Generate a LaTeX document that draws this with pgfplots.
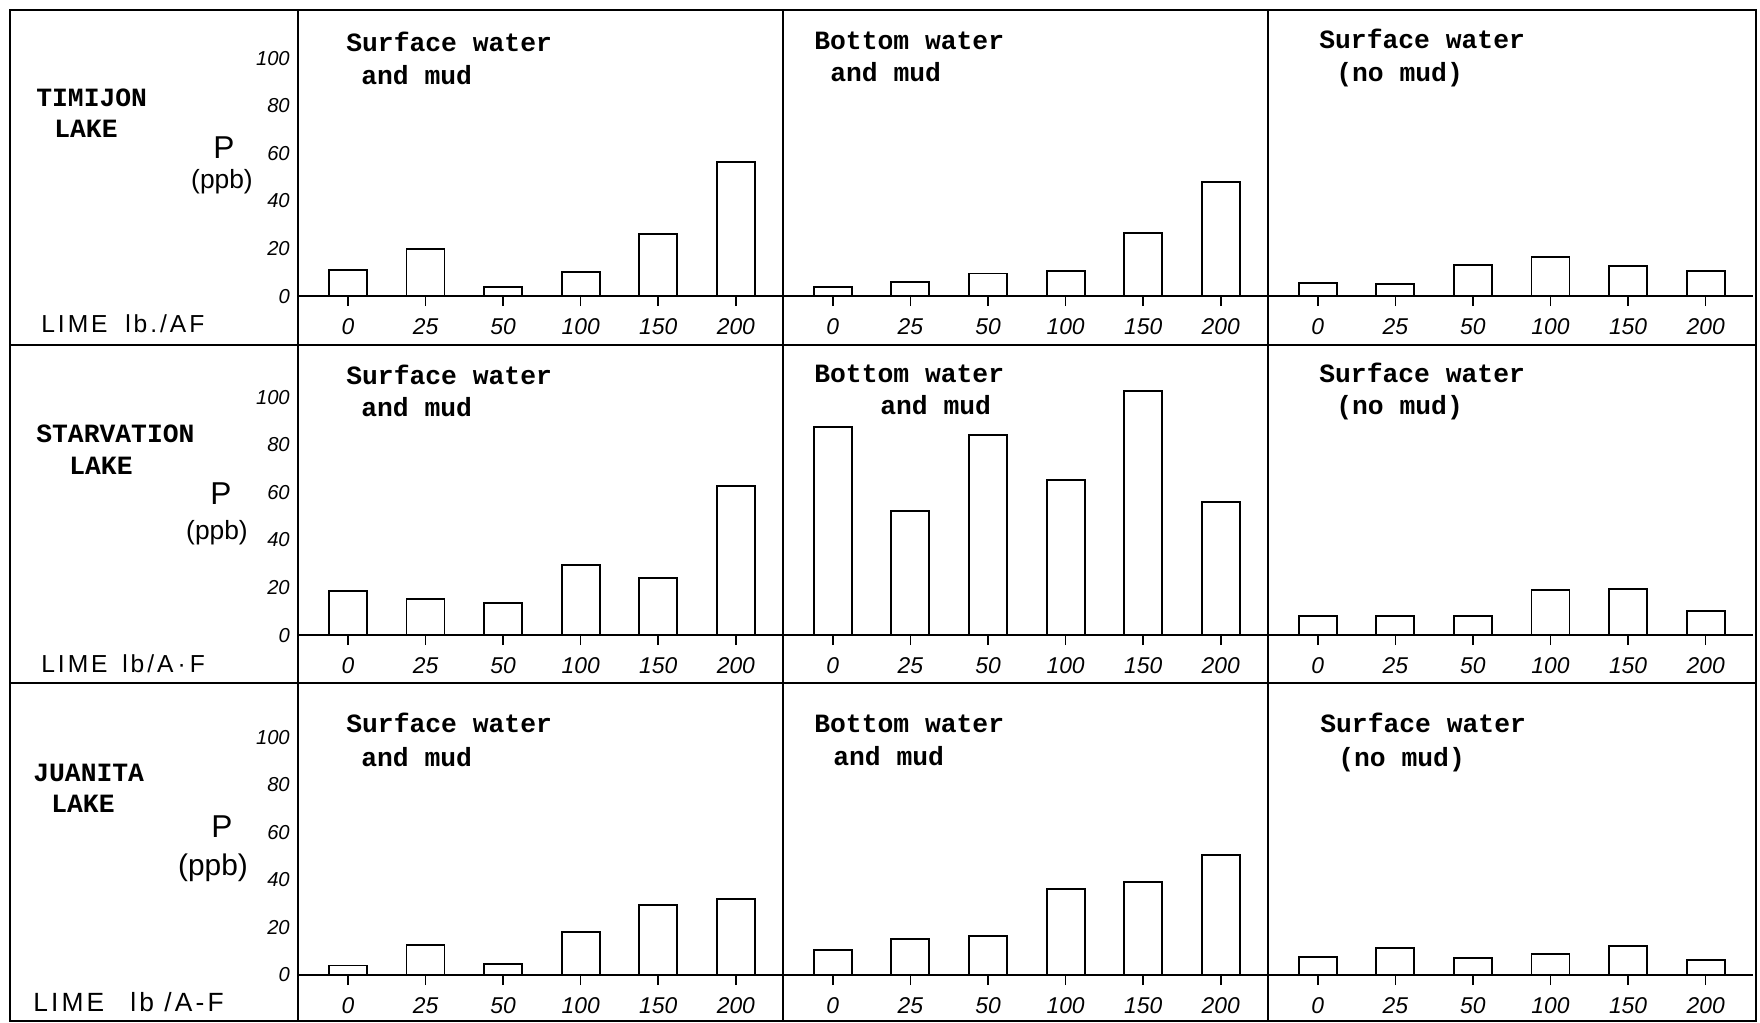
\documentclass[border=0pt]{standalone}
\usepackage{fontspec}
\usepackage{pgfplots}
\pgfplotsset{compat=1.18}
\setmainfont{Liberation Sans}
\newfontfamily\tw{Liberation Mono}
\newfontfamily\hand{Liberation Sans}
\newfontfamily\handwide{Liberation Sans}[LetterSpace=12]

\pgfplotsset{panel/.style={
  scale only axis, width=9.7cm, height=5.236cm,
  xmin=-0.6443, xmax=5.6057, ymin=0, ymax=110,
  axis x line=bottom, axis y line=left,
  x axis line style={-, line width=1.4pt},
  y axis line style={draw=none},
  xtick={0,...,5}, xticklabels={0,25,50,100,150,200},
  tick align=outside, major tick length=0.2cm,
  x tick style={line width=0.9pt, black},
  y tick style={draw=none},
  ytick=\empty,
  ybar, bar width=0.76cm,
  anchor=south west,
  clip=false,
  xticklabel style={font=\hand\itshape\fontsize{13}{13}\selectfont, anchor=center, yshift=-0.42cm},
  /pgf/number format/assume math mode=true,
},
firstcol/.style={
  ytick={0,20,40,60,80,100},
  yticklabel style={font=\hand\itshape\fontsize{11.5}{11.5}\selectfont, anchor=east, xshift=0.16cm},
},
bars/.style={fill=white, draw=black, line width=1.1pt}
}

\begin{document}
\begin{tikzpicture}[x=0.02cm,y=0.02cm]
\useasboundingbox (0,0) rectangle (1760,1023);

% ---------- Row 1: Timijon Lake ----------
\begin{axis}[panel, firstcol, at={(5.96cm,14.54cm)}]
\addplot[bars] coordinates {(0,11) (1,20) (2,4) (3,10) (4,26) (5,56.5)};
\end{axis}
\begin{axis}[panel, at={(15.66cm,14.54cm)}]
\addplot[bars] coordinates {(0,4) (1,6) (2,9.5) (3,10.5) (4,26.5) (5,48)};
\end{axis}
\begin{axis}[panel, at={(25.36cm,14.54cm)}]
\addplot[bars] coordinates {(0,5.5) (1,5) (2,13) (3,16.5) (4,12.5) (5,10.5)};
\end{axis}

% ---------- Row 2: Starvation Lake ----------
\begin{axis}[panel, firstcol, at={(5.96cm,7.76cm)}]
\addplot[bars] coordinates {(0,18.5) (1,15) (2,13.5) (3,29.5) (4,24) (5,62.5)};
\end{axis}
\begin{axis}[panel, at={(15.66cm,7.76cm)}]
\addplot[bars] coordinates {(0,87.5) (1,52) (2,84) (3,65) (4,102.5) (5,56)};
\end{axis}
\begin{axis}[panel, at={(25.36cm,7.76cm)}]
\addplot[bars] coordinates {(0,8) (1,8) (2,8) (3,19) (4,19.5) (5,10)};
\end{axis}

% ---------- Row 3: Juanita Lake ----------
\begin{axis}[panel, firstcol, at={(5.96cm,0.96cm)}]
\addplot[bars] coordinates {(0,4) (1,12.5) (2,4.5) (3,18) (4,29.5) (5,32)};
\end{axis}
\begin{axis}[panel, at={(15.66cm,0.96cm)}]
\addplot[bars] coordinates {(0,10.5) (1,15) (2,16.5) (3,36) (4,39) (5,50.5)};
\end{axis}
\begin{axis}[panel, at={(25.36cm,0.96cm)}]
\addplot[bars] coordinates {(0,7.5) (1,11.5) (2,7) (3,9) (4,12) (5,6.5)};
\end{axis}

% ---------- Frame and dividers ----------
\draw[line width=1.6pt] (10,1013) rectangle (1756,2);
\draw[line width=1.1pt] (298,1013) -- (298,2);
\draw[line width=1.1pt] (783,1013) -- (783,2);
\draw[line width=1.1pt] (1268,1013) -- (1268,2);
\draw[line width=1.3pt] (10,678) -- (1756,678);
\draw[line width=1.3pt] (10,340) -- (1756,340);

% ---------- Panel titles ----------
\tikzset{ttl/.style={anchor=base west, inner sep=0pt, font=\tw\bfseries\fontsize{15}{15}\selectfont}}
\node[ttl] at (346,971) {Surface water};
\node[ttl] at (361,938) {and mud};
\node[ttl] at (814,973) {Bottom water};
\node[ttl] at (830,941) {and mud};
\node[ttl] at (1319,974) {Surface water};
\node[ttl] at (1336,941) {(no mud)};

\node[ttl] at (346,638) {Surface water};
\node[ttl] at (361,606) {and mud};
\node[ttl] at (814,640) {Bottom water};
\node[ttl] at (880,608) {and mud};
\node[ttl] at (1319,640) {Surface water};
\node[ttl] at (1336,608) {(no mud)};

\node[ttl] at (346,290) {Surface water};
\node[ttl] at (361,256) {and mud};
\node[ttl] at (814,290) {Bottom water};
\node[ttl] at (833,257) {and mud};
\node[ttl] at (1320,290) {Surface water};
\node[ttl] at (1338,256) {(no mud)};

% ---------- Lake names ----------
\node[ttl] at (36,916) {TIMIJON};
\node[ttl] at (54,885) {LAKE};
\node[ttl] at (36,580) {STARVATION};
\node[ttl] at (69,548) {LAKE};
\node[ttl] at (33,241) {JUANITA};
\node[ttl] at (51,210) {LAKE};

% ---------- y axis names ----------
\tikzset{pl/.style={inner sep=0pt, font=\hand\fontsize{18}{18}\selectfont},
         ppb/.style={inner sep=0pt, font=\hand\fontsize{15}{15}\selectfont}}
\node[pl] at (224,875) {P};
\node[ppb] at (222,841) {(ppb)};
\node[pl] at (221,529) {P};
\node[ppb] at (217,490) {(ppb)};
\node[pl] at (222,196) {P};
\node[ppb,font=\hand\fontsize{17}{17}\selectfont] at (213,155) {(ppb)};

% ---------- Lime labels ----------
\tikzset{lime/.style={anchor=base west, inner sep=0pt, font=\handwide\fontsize{14}{14}\selectfont}}
\node[lime] at (41,690) {LIME};
\node[lime] at (125,690) {lb./AF};
\node[lime] at (41,350) {LIME};
\node[lime] at (122,350) {lb/A\,·\,F};
\node[lime,font=\handwide\fontsize{15}{15}\selectfont] at (33,11) {LIME};
\node[lime,font=\handwide\fontsize{15}{15}\selectfont] at (130,11) {lb /A-F};
\end{tikzpicture}
\end{document}
